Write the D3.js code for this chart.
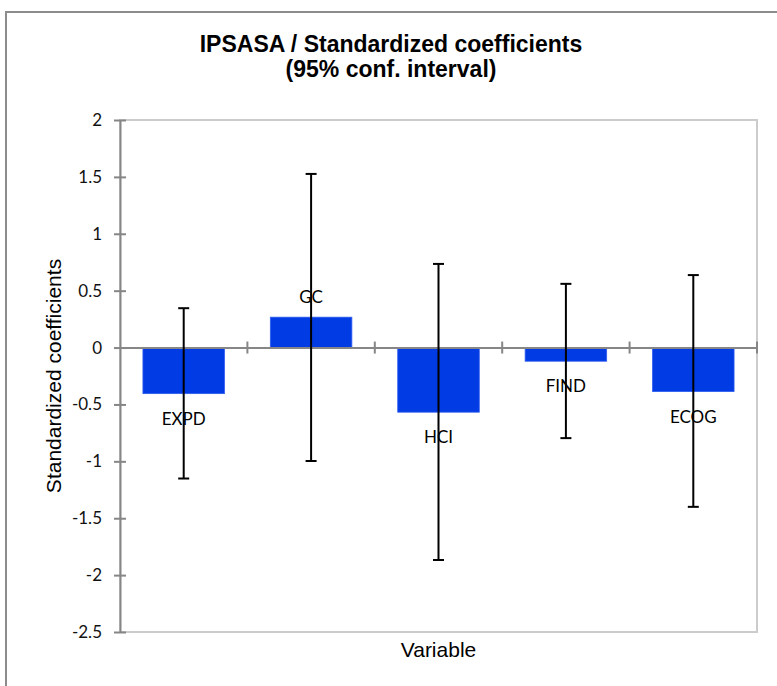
<!DOCTYPE html>
<html>
<head>
<meta charset="utf-8">
<script src="https://cdn.jsdelivr.net/npm/d3@7"></script>
<style>
  body { margin: 0; background: #fff; }
  svg { display: block; }
</style>
</head>
<body>
<div id="container"></div>
<script>
// Chart data
var categories = ['EXPD', 'GC', 'HCI', 'FIND', 'ECOG'];
var coefficients = [-0.405, 0.267, -0.568, -0.12, -0.387];
var lowerBounds = [-1.151, -0.997, -1.867, -0.796, -1.40];
var upperBounds = [0.346, 1.526, 0.735, 0.56, 0.637];
var yTicks = [-2.5, -2, -1.5, -1, -0.5, 0, 0.5, 1, 1.5, 2];

// Plot constants
var width = 777,
height = 686,
plotLeft = 120,
plotRight = 757,
plotTop = 120,
plotBottom = 632;

var svg = d3.select('#container').append('svg').attr('width', width).attr('height', height);

// outer chart border (only left and top visible)
svg.append('rect')
  .attr('x', 6).attr('y', 12)
  .attr('width', 800).attr('height', 700)
  .attr('fill', 'none')
  .attr('stroke', '#8c8c8c')
  .attr('stroke-width', 2);

var x = d3.scaleBand().domain(categories).range([plotLeft, plotRight]).paddingInner(0).paddingOuter(0);
var y = d3.scaleLinear().domain([-2.5, 2]).range([plotBottom, plotTop]);

// plot area border
svg.append('rect')
  .attr('x', plotLeft).attr('y', plotTop)
  .attr('width', plotRight - plotLeft).attr('height', plotBottom - plotTop)
  .attr('fill', 'none')
  .attr('stroke', '#cccccc')
  .attr('stroke-width', 2);

// bars
var barWidth = x.bandwidth() * 0.64;
svg.append('g').selectAll('rect')
  .data(categories).enter()
  .append('rect')
  .attr('x', function (d) { return x(d) + (x.bandwidth() - barWidth) / 2; })
  .attr('y', function (d, i) { return Math.min(y(coefficients[i]), y(0)); })
  .attr('width', barWidth)
  .attr('height', function (d, i) { return Math.abs(y(coefficients[i]) - y(0)); })
  .attr('fill', '#003be4')
  .attr('stroke', '#2f5cf0')
  .attr('stroke-width', 0.8);

// y axis
var yAxis = d3.axisLeft(y).tickValues(yTicks).tickSize(6).tickSizeOuter(0).tickPadding(12)
  .tickFormat(function (t) { return String(t); });
svg.append('g')
  .attr('transform', 'translate(' + plotLeft + ',0)')
  .call(yAxis)
  .call(function (g) {
    g.select('.domain').attr('stroke', '#868686').attr('stroke-width', 2);
    g.selectAll('.tick line').attr('stroke', '#868686').attr('stroke-width', 2).attr('x1', 6);
    g.selectAll('.tick text').attr('fill', '#111')
      .style('font-family', 'Lato, "Open Sans", sans-serif').style('font-size', '17px');
  });

// x axis line at zero with tick marks between categories
var xAxis = d3.axisBottom(x).tickValues([]).tickSizeOuter(0);
var xg = svg.append('g').attr('transform', 'translate(0,' + y(0) + ')').call(xAxis);
xg.select('.domain').attr('stroke', '#868686').attr('stroke-width', 2);
xg.selectAll('line.sep')
  .data(categories).enter()
  .append('line')
  .attr('class', 'sep')
  .attr('x1', function (d) { return x(d) + x.bandwidth(); })
  .attr('x2', function (d) { return x(d) + x.bandwidth(); })
  .attr('y1', -6).attr('y2', 6)
  .attr('stroke', '#868686')
  .attr('stroke-width', 2);

// category labels
svg.append('g').selectAll('text')
  .data(categories).enter()
  .append('text')
  .attr('x', function (d) { return x(d) + x.bandwidth() / 2; })
  .attr('y', function (d, i) {
    var v = coefficients[i];
    return v >= 0 ? y(v) - 14 : y(v) + 31;
  })
  .attr('text-anchor', 'middle')
  .attr('fill', '#000')
  .style('font-family', 'Lato, "Open Sans", sans-serif')
  .style('font-size', '17px')
  .text(function (d) { return d; });

// error bars
var capHalf = 5.5;
var errs = svg.append('g').attr('stroke', '#000').attr('stroke-width', 2);
categories.forEach(function (c, i) {
  var cx = x(c) + x.bandwidth() / 2;
  errs.append('line').attr('x1', cx).attr('x2', cx).attr('y1', y(upperBounds[i])).attr('y2', y(lowerBounds[i]));
  errs.append('line').attr('x1', cx - capHalf).attr('x2', cx + capHalf).attr('y1', y(upperBounds[i])).attr('y2', y(upperBounds[i]));
  errs.append('line').attr('x1', cx - capHalf).attr('x2', cx + capHalf).attr('y1', y(lowerBounds[i])).attr('y2', y(lowerBounds[i]));
});

// titles
var title = svg.append('text')
  .attr('x', 391).attr('y', 52)
  .attr('text-anchor', 'middle')
  .style('font-family', '"Liberation Sans", Arial, sans-serif')
  .style('font-size', '23px')
  .style('font-weight', 'bold')
  .attr('fill', '#000');
title.append('tspan').attr('x', 391).text('IPSASA / Standardized coefficients');
title.append('tspan').attr('x', 391).attr('dy', 25).text('(95% conf. interval)');

svg.append('text')
  .attr('transform', 'translate(61,' + (plotTop + plotBottom) / 2 + ') rotate(-90)')
  .attr('text-anchor', 'middle')
  .style('font-family', '"Liberation Sans", Arial, sans-serif')
  .style('font-size', '21px')
  .attr('fill', '#000')
  .text('Standardized coefficients');

svg.append('text')
  .attr('x', (plotLeft + plotRight) / 2).attr('y', 657)
  .attr('text-anchor', 'middle')
  .style('font-family', '"Liberation Sans", Arial, sans-serif')
  .style('font-size', '21px')
  .attr('fill', '#000')
  .text('Variable');
</script>
</body>
</html>
